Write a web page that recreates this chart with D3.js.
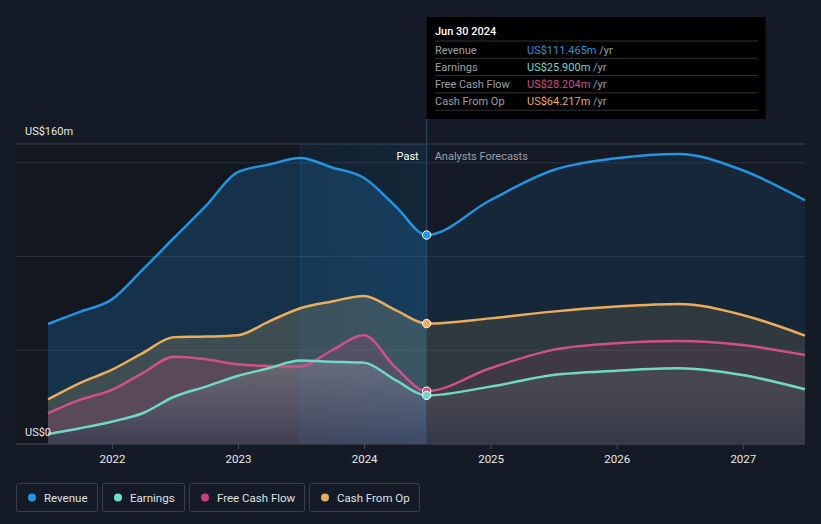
<!DOCTYPE html>
<html><head><meta charset="utf-8">
<script src="https://cdn.jsdelivr.net/npm/d3@7"></script>
<style>
html,body{margin:0;padding:0;background:#151b26;}
svg{display:block;font-family:Roboto,"Noto Sans",sans-serif;}
</style></head>
<body><svg id="c" width="821" height="524"></svg>
<script>
// ---- data ----
const dates = ["2021-06-30","2021-09-30","2021-12-31","2022-03-31","2022-06-30","2022-09-30","2022-12-31","2023-03-31","2023-06-30","2023-09-30","2023-12-31","2024-03-31","2024-06-30","2024-12-31","2025-06-30","2025-12-31","2026-06-30","2026-12-31","2027-06-30"];
const revenue  = [64, 70.5, 77, 93, 110, 127, 145, 149, 152.5, 147.5, 142, 127, 111.465, 130, 146, 152.4, 154.7, 146, 130];
const earnings = [5.3, 8.4, 11.9, 16.4, 25.2, 30.6, 36.3, 40.4, 44.5, 43.9, 43.4, 34.2, 25.9, 30.6, 36.8, 39.1, 40.4, 36.8, 29.2];
const fcf      = [16.4, 23.5, 28.8, 37.8, 46.6, 45.2, 42.5, 41.6, 41.3, 50, 58, 41, 28.204, 40.4, 50.2, 53.7, 55, 52.8, 47.5];
const cfo      = [23.8, 32.5, 39.5, 48.5, 57, 57.3, 58, 65.3, 72.4, 76, 79, 71.5, 64.217, 67, 70.6, 73.3, 74.7, 68.8, 57.8];
const xTicks = ["2022","2023","2024","2025","2026","2027"];
const yTickLabels = ["US$0","US$160m"];
const yGrid = [50, 100, 150];
const seriesNames = ["Revenue","Earnings","Free Cash Flow","Cash From Op"];
const seriesColors = ["#2394df","#6fd9c6","#d0508a","#e9ad5c"];
const tooltipDate = "Jun 30 2024";
const tooltipValues = ["US$111.465m","US$25.900m","US$28.204m","US$64.217m"];
const pastEnd = "2024-06-30";
const bandStart = "2023-06-30";

// ---- setup ----
const svg = d3.select("#c");
const parse = d3.timeParse("%Y-%m-%d");
const D = dates.map(parse);
const x = d3.scaleTime().domain([parse("2021-06-30"), parse("2027-06-30")]).range([48, 805]);
const y = d3.scaleLinear().domain([0, 160]).range([444, 144]);
const L = 16, R = 805;
const xPast = x(parse(pastEnd)), xBand = x(parse(bandStart));

const defs = svg.append("defs");
defs.append("clipPath").attr("id","past").append("rect").attr("x",0).attr("y",0).attr("width",xPast).attr("height",524);
defs.append("clipPath").attr("id","fut").append("rect").attr("x",xPast).attr("y",0).attr("width",821-xPast).attr("height",524);

function vgrad(id, top, bottom){
  const g = defs.append("linearGradient").attr("id",id).attr("x1",0).attr("x2",0).attr("y1",0).attr("y2",1);
  g.append("stop").attr("offset","0%").attr("stop-color",top[0]).attr("stop-opacity",top[1]);
  g.append("stop").attr("offset","100%").attr("stop-color",bottom[0]).attr("stop-opacity",bottom[1]);
}
vgrad("eP", ["#8ca0a5",0.36], ["#1e324b",0.42]);
vgrad("eF", ["#8ca0a5",0.13], ["#1e324b",0.3]);

// background regions
svg.append("rect").attr("x",0).attr("y",0).attr("width",821).attr("height",524).attr("fill","#151b26");
svg.append("rect").attr("x",L).attr("y",y(160)).attr("width",xPast-L).attr("height",y(0)-y(160)).attr("fill","#10141c").attr("opacity",0.55);

// gridlines
svg.append("line").attr("x1",L).attr("x2",R).attr("y1",y(160)).attr("y2",y(160)).attr("stroke","#3a404b").attr("stroke-width",1);
yGrid.forEach(v=>svg.append("line").attr("x1",L).attr("x2",R).attr("y1",y(v)).attr("y2",y(v)).attr("stroke","#2a313d").attr("stroke-width",1));

// areas & lines
const all = [revenue, earnings, fcf, cfo];
const order = [0,3,2,1];
const fillPast = ["#1f6aa6","url(#eP)","#c83c78","#9a8d66"];
const fillFut  = ["#1f6aa6","url(#eF)","#c83c78","#aa965a"];
const opPast = [0.32, 1, 0.2, 0.3];
const opFut  = [0.16, 1, 0.1, 0.17];
const area = d3.area().x((d,i)=>x(D[i])).y0(y(0)).y1(d=>y(d)).curve(d3.curveMonotoneX);
const line = d3.line().x((d,i)=>x(D[i])).y(d=>y(d)).curve(d3.curveMonotoneX);
order.forEach(k=>{
  svg.append("path").datum(all[k]).attr("d",area).attr("fill",fillPast[k]).attr("opacity",opPast[k]).attr("clip-path","url(#past)");
  svg.append("path").datum(all[k]).attr("d",area).attr("fill",fillFut[k]).attr("opacity",opFut[k]).attr("clip-path","url(#fut)");
});

// highlight band (last year of past) over areas
const bg = defs.append("linearGradient").attr("id","band").attr("x1",0).attr("x2",1).attr("y1",0).attr("y2",0);
bg.append("stop").attr("offset","0%").attr("stop-color","#2394df").attr("stop-opacity",0.07);
bg.append("stop").attr("offset","100%").attr("stop-color","#2394df").attr("stop-opacity",0.13);
svg.append("rect").attr("x",xBand).attr("y",y(160)).attr("width",xPast-xBand).attr("height",y(0)-y(160)).attr("fill","url(#band)");
svg.append("line").attr("x1",xBand).attr("x2",xBand).attr("y1",y(160)).attr("y2",y(0)).attr("stroke","#2394df").attr("stroke-opacity",0.15);

order.forEach(k=>{
  svg.append("path").datum(all[k]).attr("d",line).attr("fill","none").attr("stroke",seriesColors[k]).attr("stroke-width",2.5);
});

// baseline & hover line
svg.append("line").attr("x1",L).attr("x2",R).attr("y1",y(0)).attr("y2",y(0)).attr("stroke","#4a505b").attr("stroke-width",1);
svg.append("line").attr("x1",xPast).attr("x2",xPast).attr("y1",119).attr("y2",y(0)).attr("stroke","#2f4a66").attr("stroke-width",1);

// dots
const pi = dates.indexOf(pastEnd);
[0,3,2,1].forEach(k=>{
  svg.append("circle").attr("cx",xPast).attr("cy",y(all[k][pi])).attr("r",4.2).attr("fill",seriesColors[k]).attr("stroke","#fff").attr("stroke-width",1);
});

// y labels
svg.append("text").attr("x",25).attr("y",135).attr("fill","#e8e8e8").attr("font-size",11).text(yTickLabels[1]);
svg.append("text").attr("x",25).attr("y",436).attr("fill","#e8e8e8").attr("font-size",11).text(yTickLabels[0]);

// x axis
const xa = svg.append("g").attr("transform",`translate(0,${y(0)})`)
  .call(d3.axisBottom(x).tickValues(xTicks.map(t=>parse(t+"-01-01"))).tickFormat(d3.timeFormat("%Y")).tickSize(5).tickPadding(6));
xa.select(".domain").remove();
xa.selectAll("line").attr("stroke","#4a505b");
xa.selectAll("text").attr("fill","#e8e8e8").attr("font-size",11.5).attr("font-family","Roboto, sans-serif");

// Past / forecasts labels
svg.append("text").attr("x",xPast-8).attr("y",160).attr("text-anchor","end").attr("fill","#ffffff").attr("font-size",11).text("Past");
svg.append("text").attr("x",xPast+8).attr("y",160).attr("fill","#9aa0a8").attr("font-size",11).text("Analysts Forecasts");

// tooltip
const tt = svg.append("g");
tt.append("rect").attr("x",xPast).attr("y",17).attr("width",339).attr("height",102).attr("fill","#000");
tt.append("text").attr("x",435).attr("y",35).attr("fill","#fff").attr("font-size",11).attr("font-weight",500).text(tooltipDate);
seriesNames.forEach((n,i)=>{
  const ry = 41 + i*17.3;
  tt.append("line").attr("x1",435).attr("x2",758).attr("y1",ry).attr("y2",ry).attr("stroke","#333").attr("stroke-width",1);
  tt.append("text").attr("x",435).attr("y",ry+12.5).attr("fill","#9aa0a8").attr("font-size",11).text(n);
  const t = tt.append("text").attr("x",527).attr("y",ry+12.5).attr("font-size",11);
  t.append("tspan").attr("fill",seriesColors[i]).text(tooltipValues[i]);
  t.append("tspan").attr("fill","#9aa0a8").text(" /yr");
});
tt.append("line").attr("x1",435).attr("x2",758).attr("y1",41+4*17.3).attr("y2",41+4*17.3).attr("stroke","#333");

// legend
const legW = [81, 82, 115, 110];
const legendColors = ["#2394df","#6fe0c8","#c0427e","#e6ae61"];
let lx = 16;
seriesNames.forEach((n,i)=>{
  const g = svg.append("g").attr("transform",`translate(${lx},483)`);
  g.append("rect").attr("x",0.5).attr("y",0.5).attr("width",legW[i]).attr("height",28).attr("rx",2).attr("fill","none").attr("stroke","#3a404b");
  g.append("circle").attr("cx",16).attr("cy",14.5).attr("r",4).attr("fill",legendColors[i]);
  g.append("text").attr("x",28).attr("y",18.5).attr("fill","#dfe1e4").attr("font-size",11.5).text(n);
  lx += legW[i] + 5;
});
</script>
</body></html>
